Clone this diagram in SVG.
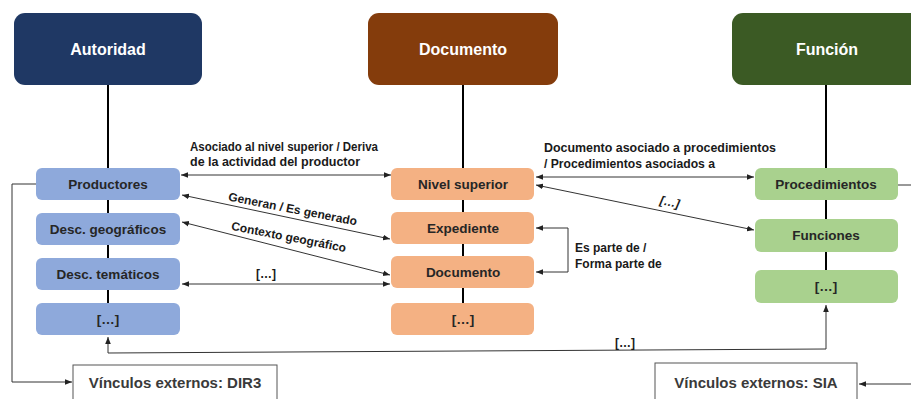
<svg xmlns="http://www.w3.org/2000/svg" width="911" height="399" viewBox="0 0 911 399">
<style>
  .hdr { font-family: "Liberation Sans", Arial, sans-serif; font-weight: bold; font-size: 16px; fill: #ffffff; text-anchor: middle; }
  .nt { font-family: "Liberation Sans", Arial, sans-serif; font-weight: bold; font-size: 13.5px; fill: #262626; text-anchor: middle; }
  .lbl { font-family: "Liberation Sans", Arial, sans-serif; font-weight: bold; font-size: 12px; fill: #1a1a1a; }
  .ext { font-family: "Liberation Sans", Arial, sans-serif; font-weight: bold; font-size: 15px; fill: #3a3a3a; text-anchor: middle; }
  .trunk { stroke: #000; stroke-width: 2; fill: none; }
  .con { stroke: #333; stroke-width: 1; fill: none; }
  .blue { fill: #8EA9DB; }
  .orange { fill: #F4B183; }
  .green { fill: #A9D18E; }
  .extbox { fill: #fff; stroke: #555; stroke-width: 1; }
</style>
<defs>
  <marker id="ah" viewBox="0 0 10 10" refX="10" refY="5" markerWidth="7" markerHeight="7" markerUnits="userSpaceOnUse" orient="auto-start-reverse">
    <path d="M0,1 L10,5 L0,9 z" fill="#222"/>
  </marker>
</defs>
<rect width="911" height="399" fill="#fff"/>

<g id="trunks">
  <line class="trunk" x1="108" y1="85" x2="108" y2="305"/>
  <line class="trunk" x1="463" y1="85" x2="463" y2="305"/>
  <line class="trunk" x1="826" y1="85" x2="826" y2="272"/>
</g>

<g id="connectors">
  <line class="con" x1="181" y1="175" x2="391" y2="175" marker-start="url(#ah)" marker-end="url(#ah)"/>
  <line class="con" x1="182" y1="195" x2="390" y2="239" marker-start="url(#ah)" marker-end="url(#ah)"/>
  <line class="con" x1="182" y1="222" x2="390" y2="275" marker-start="url(#ah)" marker-end="url(#ah)"/>
  <line class="con" x1="182" y1="284" x2="390" y2="284" marker-start="url(#ah)" marker-end="url(#ah)"/>
  <polyline class="con" points="536,228 568,228 568,272 536,272" marker-start="url(#ah)" marker-end="url(#ah)"/>
  <line class="con" x1="536" y1="177" x2="754" y2="177" marker-start="url(#ah)" marker-end="url(#ah)"/>
  <line class="con" x1="536" y1="185" x2="754" y2="230" marker-start="url(#ah)" marker-end="url(#ah)"/>
  <polyline class="con" points="826,305 826,349 108,353 108,337" marker-start="url(#ah)" marker-end="url(#ah)"/>
  <polyline class="con" points="36,184 12,184 12,382 72,382" marker-end="url(#ah)"/>
  <line class="con" x1="911" y1="384" x2="859" y2="384" marker-end="url(#ah)"/>
  <line class="con" x1="898" y1="185" x2="911" y2="185"/>
</g>

<g id="labels">
  <text class="lbl" x="190" y="151" textLength="188" lengthAdjust="spacingAndGlyphs">Asociado al nivel superior / Deriva</text>
  <text class="lbl" x="190" y="166" textLength="170" lengthAdjust="spacingAndGlyphs">de la actividad del productor</text>
  <text class="lbl" x="0" y="0" text-anchor="middle" font-size="12.5" transform="translate(292,213) rotate(11)">Generan / Es generado</text>
  <text class="lbl" x="0" y="0" text-anchor="middle" font-size="12.5" transform="translate(288,241) rotate(11)">Contexto geográfico</text>
  <text class="lbl" x="266" y="278" text-anchor="middle">[…]</text>
  <text class="lbl" x="544" y="152" textLength="232" lengthAdjust="spacingAndGlyphs">Documento asociado a procedimientos</text>
  <text class="lbl" x="544" y="168" textLength="171" lengthAdjust="spacingAndGlyphs">/ Procedimientos asociados a</text>
  <text class="lbl" x="0" y="0" text-anchor="middle" font-style="italic" transform="translate(669,206) rotate(12)">[…]</text>
  <text class="lbl" x="575" y="252">Es parte de /</text>
  <text class="lbl" x="575" y="268">Forma parte de</text>
  <text class="lbl" x="625" y="347" text-anchor="middle">[…]</text>
</g>

<g id="autoridad">
  <rect x="14" y="13" width="188" height="72" rx="11" fill="#1F3864"/>
  <text class="hdr" x="108" y="55">Autoridad</text>
</g>
<g id="documento-hdr">
  <rect x="368" y="13" width="190" height="72" rx="11" fill="#843C0C"/>
  <text class="hdr" x="463" y="55">Documento</text>
</g>
<g id="funcion">
  <rect x="732" y="13" width="190" height="72" rx="11" fill="#3B5A24"/>
  <text class="hdr" x="827" y="55">Función</text>
</g>

<g id="productores"><rect class="blue" x="36" y="168" width="144" height="32" rx="6"/><text class="nt" x="108" y="189">Productores</text></g>
<g id="desc-geo"><rect class="blue" x="36" y="213" width="144" height="32" rx="6"/><text class="nt" x="108" y="234">Desc. geográficos</text></g>
<g id="desc-tem"><rect class="blue" x="36" y="258" width="144" height="32" rx="6"/><text class="nt" x="108" y="279">Desc. temáticos</text></g>
<g id="blue-etc"><rect class="blue" x="36" y="303" width="144" height="32" rx="6"/><text class="nt" x="108" y="324">[…]</text></g>

<g id="nivel-superior"><rect class="orange" x="391" y="168" width="143" height="32" rx="6"/><text class="nt" x="463" y="189">Nivel superior</text></g>
<g id="expediente"><rect class="orange" x="391" y="212" width="143" height="32" rx="6"/><text class="nt" x="463" y="233">Expediente</text></g>
<g id="documento"><rect class="orange" x="391" y="256" width="143" height="32" rx="6"/><text class="nt" x="463" y="277">Documento</text></g>
<g id="orange-etc"><rect class="orange" x="391" y="303" width="143" height="32" rx="6"/><text class="nt" x="463" y="324">[…]</text></g>

<g id="procedimientos"><rect class="green" x="755" y="168" width="143" height="32" rx="6"/><text class="nt" x="826" y="189">Procedimientos</text></g>
<g id="funciones"><rect class="green" x="755" y="219" width="143" height="33" rx="6"/><text class="nt" x="826" y="240">Funciones</text></g>
<g id="green-etc"><rect class="green" x="755" y="270" width="143" height="33" rx="6"/><text class="nt" x="826" y="291">[…]</text></g>

<g id="ext-dir3"><rect class="extbox" x="73" y="365" width="204" height="40"/><text class="ext" x="175" y="388">Vínculos externos: DIR3</text></g>
<g id="ext-sia"><rect class="extbox" x="655" y="363" width="202" height="42"/><text class="ext" x="756" y="388">Vínculos externos: SIA</text></g>
</svg>
